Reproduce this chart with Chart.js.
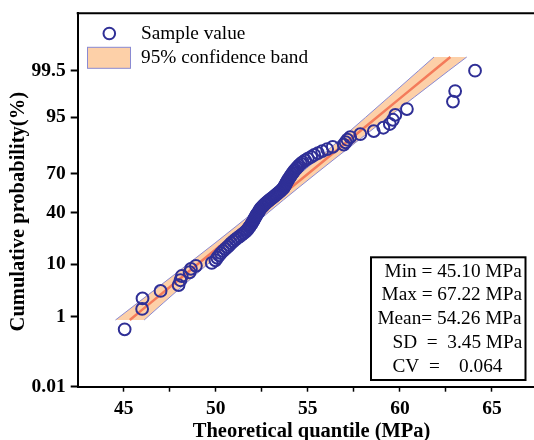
<!DOCTYPE html>
<html>
<head>
<meta charset="utf-8">
<script src="https://cdn.jsdelivr.net/npm/chart.js@4.4.1/dist/chart.umd.min.js"></script>
<style>
  html, body { margin: 0; padding: 0; background: #fff; overflow: hidden; }
  #wrap { width: 545px; height: 440px; }
</style>
</head>
<body>
<div id="wrap"><canvas id="chart" width="545" height="440"></canvas></div>
<script>
// sorted sample values (MPa) and their cumulative probabilities (%)
const sampleValues = [
  45.05, 46.00, 46.02, 47.00, 47.98, 48.08, 48.15, 48.58, 48.65, 48.92,
  49.78, 49.98, 50.08, 50.18, 50.28, 50.40, 50.52, 50.64, 50.74, 50.84,
  50.95, 51.06, 51.18, 51.30, 51.42, 51.52, 51.62, 51.70, 51.76, 51.82,
  51.88, 51.93, 51.98, 52.02, 52.06, 52.10, 52.14, 52.18, 52.22, 52.27,
  52.32, 52.36, 52.40, 52.45, 52.52, 52.58, 52.65, 52.72, 52.80, 52.88,
  52.96, 53.05, 53.14, 53.22, 53.30, 53.38, 53.46, 53.54, 53.62, 53.68,
  53.72, 53.76, 53.80, 53.84, 53.88, 53.92, 53.97, 54.02, 54.07, 54.12,
  54.18, 54.24, 54.30, 54.38, 54.45, 54.52, 54.62, 54.72, 54.85, 55.00,
  55.18, 55.35, 55.55, 55.78, 56.05, 56.35, 56.95, 57.05, 57.15, 57.30,
  57.85, 58.58, 59.10, 59.45, 59.62, 59.75, 60.38, 62.88, 63.00, 64.08
];
const sampleProb = [
  0.5, 1.5, 2.5, 3.5, 4.5, 5.5, 6.5, 7.5, 8.5, 9.5,
  10.5, 11.5, 12.5, 13.5, 14.5, 15.5, 16.5, 17.5, 18.5, 19.5,
  20.5, 21.5, 22.5, 23.5, 24.5, 25.5, 26.5, 27.5, 28.5, 29.5,
  30.5, 31.5, 32.5, 33.5, 34.5, 35.5, 36.5, 37.5, 38.5, 39.5,
  40.5, 41.5, 42.5, 43.5, 44.5, 45.5, 46.5, 47.5, 48.5, 49.5,
  50.5, 51.5, 52.5, 53.5, 54.5, 55.5, 56.5, 57.5, 58.5, 59.5,
  60.5, 61.5, 62.5, 63.5, 64.5, 65.5, 66.5, 67.5, 68.5, 69.5,
  70.5, 71.5, 72.5, 73.5, 74.5, 75.5, 76.5, 77.5, 78.5, 79.5,
  80.5, 81.5, 82.5, 83.5, 84.5, 85.5, 86.5, 87.5, 88.5, 89.5,
  90.5, 91.5, 92.5, 93.5, 94.5, 95.5, 96.5, 97.5, 98.5, 99.5
];

// fitted line and 95% confidence band, read at these probabilities (%)
const bandProb  = [0.84, 2, 5, 10, 20, 30, 40, 50, 60, 70, 80, 90, 95, 98, 99.5, 99.78];
const fitX      = [45.33, 46.44, 47.80, 49.01, 50.47, 51.53, 52.43, 53.27, 54.11, 55.01, 56.07, 57.53, 58.74, 60.10, 61.83, 62.74];
const bandLower = [44.55, 45.74, 47.19, 48.47, 50.01, 51.10, 52.02, 52.87, 53.70, 54.58, 55.61, 56.99, 58.13, 59.40, 61.01, 61.85];
const bandUpper = [46.11, 47.14, 48.41, 49.55, 50.93, 51.96, 52.84, 53.67, 54.52, 55.44, 56.53, 58.07, 59.35, 60.80, 62.65, 63.63];

const xTickValues = [45, 47.5, 50, 52.5, 55, 57.5, 60, 62.5, 65];
const xTickLabels = ['45', '', '50', '', '55', '', '60', '', '65'];
const yTickValues = [0.01, 1, 10, 40, 70, 95, 99.5];
const yTickLabels = ['0.01', '1', '10', '40', '70', '95', '99.5'];

const stats = [
  { text: 'Min = 45.10 MPa', x: 384.5 },
  { text: 'Max = 67.22 MPa', x: 381.5 },
  { text: 'Mean= 54.26 MPa', x: 377.4 },
  { text: 'SD  =  3.45 MPa', x: 392.5 },
  { text: 'CV  =    0.064',  x: 392.5 }
];

// inverse of the standard normal CDF (Acklam)
function probit(p) {
  const a = [-3.969683028665376e+01, 2.209460984245205e+02, -2.759285104469687e+02, 1.383577518672690e+02, -3.066479806614716e+01, 2.506628277459239e+00];
  const b = [-5.447609879822406e+01, 1.615858368580409e+02, -1.556989798598866e+02, 6.680131188771972e+01, -1.328068155288572e+01];
  const c = [-7.784894002430293e-03, -3.223964580411365e-01, -2.400758277161838e+00, -2.549732539343734e+00, 4.374664141464968e+00, 2.938163982698783e+00];
  const d = [7.784695709041462e-03, 3.224671290700398e-01, 2.445134137142996e+00, 3.754408661907416e+00];
  const pl = 0.02425;
  let q, r;
  if (p < pl) {
    q = Math.sqrt(-2 * Math.log(p));
    return (((((c[0]*q+c[1])*q+c[2])*q+c[3])*q+c[4])*q+c[5]) / ((((d[0]*q+d[1])*q+d[2])*q+d[3])*q+1);
  }
  if (p > 1 - pl) {
    q = Math.sqrt(-2 * Math.log(1 - p));
    return -(((((c[0]*q+c[1])*q+c[2])*q+c[3])*q+c[4])*q+c[5]) / ((((d[0]*q+d[1])*q+d[2])*q+d[3])*q+1);
  }
  q = p - 0.5; r = q * q;
  return (((((a[0]*r+a[1])*r+a[2])*r+a[3])*r+a[4])*r+a[5])*q / (((((b[0]*r+b[1])*r+b[2])*r+b[3])*r+b[4])*r+1);
}

function normCdf(z) {
  const t = 1 / (1 + 0.2316419 * Math.abs(z));
  const poly = t * (0.319381530 + t * (-0.356563782 + t * (1.781477937 + t * (-1.821255978 + t * 1.330274429))));
  const v = 1 - Math.exp(-z * z / 2) / Math.sqrt(2 * Math.PI) * poly;
  return z >= 0 ? v : 1 - v;
}

// normal probability axis: values in percent, spaced by their z score
class ProbabilityScale extends Chart.Scale {
  determineDataLimits() {
    this.min = this.options.min;
    this.max = this.options.max;
  }
  buildTicks() {
    return [];
  }
  configure() {
    super.configure();
    this._zMin = probit(this.min / 100);
    this._zMax = probit(this.max / 100);
  }
  getLabelForValue(value) {
    return String(value);
  }
  getPixelForValue(value) {
    const z = probit(value / 100);
    return this.getPixelForDecimal((z - this._zMin) / (this._zMax - this._zMin));
  }
  getValueForPixel(pixel) {
    const z = this._zMin + this.getDecimalForPixel(pixel) * (this._zMax - this._zMin);
    return normCdf(z) * 100;
  }
}
ProbabilityScale.id = 'probability';
ProbabilityScale.defaults = {};
Chart.register(ProbabilityScale);

const serif = '"Liberation Serif", "Times New Roman", serif';
const pointColor = '#2f2f96';
const bandColor = '#fdd0a8';
const edgeColor = '#8a8ad2';

const toPoints = (xs, ps) => xs.map((x, i) => ({ x: x, y: ps[i] }));

const bandShape = toPoints(bandLower, bandProb)
  .concat(toPoints(bandUpper, bandProb).reverse());

const decorations = {
  id: 'decorations',
  afterDraw(chart) {
    const ctx = chart.ctx;
    const a = chart.chartArea;
    ctx.save();

    // top and right frame
    ctx.strokeStyle = '#000';
    ctx.lineWidth = 2;
    ctx.beginPath();
    ctx.moveTo(a.left - 1, a.top);
    ctx.lineTo(a.right, a.top);
    ctx.lineTo(a.right, a.bottom);
    ctx.stroke();

    // axis titles
    ctx.fillStyle = '#000';
    ctx.font = 'bold 20.5px ' + serif;
    ctx.textAlign = 'center';
    ctx.textBaseline = 'middle';
    ctx.fillText('Theoretical quantile (MPa)', 311.6, 432);
    ctx.save();
    ctx.translate(18.7, 211.7);
    ctx.rotate(-Math.PI / 2);
    ctx.fillText('Cumulative probability(%)', 0, 0);
    ctx.restore();

    // legend
    ctx.strokeStyle = pointColor;
    ctx.lineWidth = 2;
    ctx.beginPath();
    ctx.arc(109.3, 33.5, 5.8, 0, Math.PI * 2);
    ctx.stroke();
    ctx.fillStyle = bandColor;
    ctx.fillRect(87.5, 47.3, 43, 21);
    ctx.strokeStyle = edgeColor;
    ctx.lineWidth = 1;
    ctx.strokeRect(87.5, 47.3, 43, 21);
    ctx.fillStyle = '#000';
    ctx.font = '19.3px ' + serif;
    ctx.textAlign = 'left';
    ctx.fillText('Sample value', 141, 33.5);
    ctx.fillText('95% confidence band', 141, 57.5);

    // statistics box
    ctx.fillStyle = '#fff';
    ctx.fillRect(371, 257.3, 154.5, 122.7);
    ctx.strokeStyle = '#000';
    ctx.lineWidth = 2;
    ctx.strokeRect(371, 257.3, 154.5, 122.7);
    ctx.fillStyle = '#000';
    ctx.font = '19.3px ' + serif;
    stats.forEach((s, i) => ctx.fillText(s.text, s.x, 271.7 + i * 23.7));

    ctx.restore();
  }
};

new Chart(document.getElementById('chart'), {
  type: 'scatter',
  data: {
    datasets: [
      {
        label: 'Sample value',
        data: toPoints(sampleValues, sampleProb),
        pointStyle: 'circle',
        pointRadius: 5.9,
        pointBorderWidth: 2,
        pointBorderColor: pointColor,
        pointBackgroundColor: 'rgba(0,0,0,0)'
      },
      {
        label: 'Fit',
        data: toPoints(fitX, bandProb),
        showLine: true,
        pointRadius: 0,
        borderColor: '#f47b5a',
        borderWidth: 2.5
      },
      {
        label: 'Lower',
        data: toPoints(bandLower, bandProb),
        showLine: true,
        pointRadius: 0,
        borderColor: edgeColor,
        borderWidth: 1
      },
      {
        label: 'Upper',
        data: toPoints(bandUpper, bandProb),
        showLine: true,
        pointRadius: 0,
        borderColor: edgeColor,
        borderWidth: 1
      },
      {
        label: '95% confidence band',
        data: bandShape,
        showLine: true,
        fill: 'shape',
        pointRadius: 0,
        borderWidth: 0,
        borderColor: 'rgba(0,0,0,0)',
        backgroundColor: bandColor
      }
    ]
  },
  options: {
    responsive: false,
    animation: false,
    devicePixelRatio: 1,
    events: [],
    layout: { autoPadding: false, padding: { top: 13.3, right: 7, left: 0, bottom: 0 } },
    plugins: {
      legend: { display: false },
      tooltip: { enabled: false }
    },
    scales: {
      x: {
        type: 'linear',
        min: 42.5,
        max: 67.5,
        afterBuildTicks: (s) => { s.ticks = xTickValues.map(v => ({ value: v })); },
        afterFit: (s) => { s.height = 53.3; s.paddingLeft = 0; s.paddingRight = 0; },
        border: { color: '#000', width: 2 },
        grid: { drawOnChartArea: false, drawTicks: true, tickLength: 5, tickColor: '#000', tickWidth: 1.5 },
        ticks: {
          autoSkip: false,
          maxRotation: 0,
          padding: 6,
          color: '#000',
          font: { family: serif, size: 19.5, weight: 'bold' },
          callback: (v, i) => xTickLabels[i]
        }
      },
      y: {
        type: 'probability',
        min: 0.01,
        max: 99.99,
        afterBuildTicks: (s) => { s.ticks = yTickValues.map(v => ({ value: v })); },
        afterFit: (s) => { s.width = 77.7; s.paddingTop = 0; s.paddingBottom = 0; },
        border: { color: '#000', width: 2 },
        grid: { drawOnChartArea: false, drawTicks: true, tickLength: 7, tickColor: '#000', tickWidth: 2 },
        ticks: {
          autoSkip: false,
          padding: 5,
          color: '#000',
          font: { family: serif, size: 19.5, weight: 'bold' },
          callback: (v, i) => yTickLabels[i]
        }
      }
    }
  },
  plugins: [decorations]
});
</script>
</body>
</html>
